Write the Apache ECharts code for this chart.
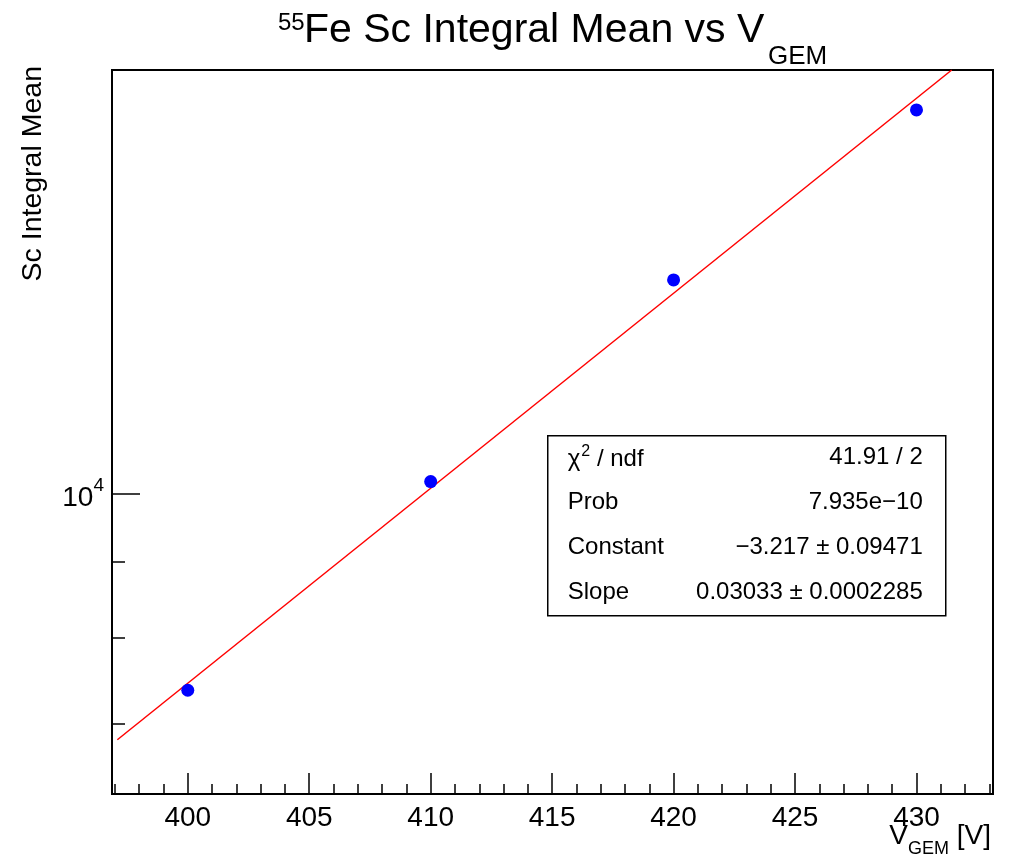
<!DOCTYPE html>
<html>
<head>
<meta charset="utf-8">
<script src="https://cdn.jsdelivr.net/npm/echarts@6/dist/echarts.min.js"></script>
<style>
  html, body { margin: 0; padding: 0; background: #fff; }
  #chart { width: 1011px; height: 862px; }
</style>
</head>
<body>
<div id="chart"></div>
<script>
// measured points
const voltages = [400, 410, 420, 430];
const scMeans = [7375, 10197, 13945, 18155];

// fitted expo line, end points
const fitX = [397.1, 431.45];
const fitY = [6830, 19316];

const xMajorTicks = [400, 405, 410, 415, 420, 425, 430];
const xMinorTicks = [397, 398, 399, 401, 402, 403, 404, 406, 407, 408, 409, 411, 412, 413, 414,
  416, 417, 418, 419, 421, 422, 423, 424, 426, 427, 428, 429, 431, 432, 433];
const yMajorTicks = [10000];
const yMinorTicks = [7000, 8000, 9000];

const statsNames = ['{n|χ}{s|2}{n| / ndf}', 'Prob', 'Constant', 'Slope'];
const statsValues = ['41.91 / 2', '7.935e−10', '−3.217 ± 0.09471', '0.03033 ± 0.0002285'];

const FONT = '"Liberation Sans", Arial, Helvetica, sans-serif';
const xMin = 396.88, xMax = 433.15;
const yMin = 6278, yMax = 19316;

const chart = echarts.init(document.getElementById('chart'));

const fitData = fitX.map((x, i) => [x, fitY[i]]);
const pointData = voltages.map((v, i) => [v, scMeans[i]]);

function label(text, x, y, size, extra) {
  return Object.assign({
    type: 'text', x: x, y: y,
    style: { text: text, font: size + 'px ' + FONT, fill: '#000', verticalAlign: 'middle' }
  }, extra || {});
}

const statsBox = {
  type: 'group',
  left: 547,
  top: 435,
  children: [
    {
      type: 'rect',
      shape: { x: 0, y: 0, width: 398, height: 180 },
      style: { fill: '#fff', stroke: '#000', lineWidth: 1.5 }
    }
  ].concat(statsNames.flatMap((name, i) => [
    {
      type: 'text',
      x: 20,
      y: 22 + i * 45,
      style: {
        text: name,
        font: '24px ' + FONT,
        fill: '#000',
        verticalAlign: 'middle',
        rich: {
          n: { fontSize: 24, fontFamily: FONT, lineHeight: 28, verticalAlign: 'bottom' },
          s: { fontSize: 16, fontFamily: FONT, lineHeight: 28, verticalAlign: 'top', padding: [0, 0, 0, 1] }
        }
      }
    },
    {
      type: 'text',
      x: 375,
      y: 22 + i * 45,
      style: {
        text: statsValues[i],
        font: '24px ' + FONT,
        fill: '#000',
        align: 'right',
        verticalAlign: 'middle'
      }
    }
  ]))
};

const option = {
  animation: false,
  backgroundColor: '#fff',
  textStyle: { fontFamily: FONT },
  grid: {
    left: 112, right: 18, top: 70, bottom: 68,
    show: true, borderColor: '#000', borderWidth: 2, backgroundColor: 'transparent'
  },
  xAxis: [
    {
      type: 'value', min: xMin, max: xMax, position: 'bottom',
      axisLine: { lineStyle: { color: '#000', width: 2 } },
      axisTick: { inside: true, length: 21, customValues: xMajorTicks, lineStyle: { color: '#000', width: 1.5 } },
      axisLabel: { customValues: xMajorTicks, color: '#000', fontSize: 28, margin: 10, fontFamily: FONT },
      splitLine: { show: false }
    },
    {
      type: 'value', min: xMin, max: xMax, position: 'bottom',
      axisLine: { show: false },
      axisTick: { inside: true, length: 10, customValues: xMinorTicks, lineStyle: { color: '#000', width: 1.5 } },
      axisLabel: { show: false },
      splitLine: { show: false }
    }
  ],
  yAxis: [
    {
      type: 'log', logBase: 10, min: yMin, max: yMax, position: 'left',
      axisLine: { show: true, lineStyle: { color: '#000', width: 2 } },
      axisTick: { inside: true, length: 28, customValues: yMajorTicks, lineStyle: { color: '#000', width: 1.5 } },
      axisLabel: {
        customValues: yMajorTicks, margin: 8, color: '#000',
        formatter: v => '{b|10}{s|' + Math.round(Math.log10(v)) + '}',
        rich: {
          b: { fontSize: 28, fontFamily: FONT, lineHeight: 36, verticalAlign: 'bottom' },
          s: { fontSize: 19, fontFamily: FONT, lineHeight: 36, verticalAlign: 'top' }
        }
      },
      splitLine: { show: false }
    },
    {
      type: 'log', logBase: 10, min: yMin, max: yMax, position: 'left',
      axisLine: { show: false },
      axisTick: { inside: true, length: 13, customValues: yMinorTicks, lineStyle: { color: '#000', width: 1.5 } },
      axisLabel: { show: false },
      splitLine: { show: false }
    }
  ],
  graphic: [
    // title: superscript 55, main text, subscript GEM
    label('55', 278, 23, 24),
    label('Fe Sc Integral Mean vs V', 304, 31, 41),
    label('GEM', 768, 57, 26),
    {
      type: 'text',
      x: 33,
      y: 66,
      rotation: Math.PI / 2,
      style: {
        text: 'Sc Integral Mean',
        font: '28.5px ' + FONT,
        fill: '#000',
        align: 'right',
        verticalAlign: 'middle'
      }
    },
    {
      type: 'text',
      right: 20,
      top: 822,
      style: {
        text: '{v|V}{g|GEM}{v| [V]}',
        fill: '#000',
        rich: {
          v: { fontSize: 28, fontFamily: FONT, lineHeight: 36, verticalAlign: 'top' },
          g: { fontSize: 18, fontFamily: FONT, lineHeight: 36, verticalAlign: 'bottom' }
        }
      }
    },
    statsBox
  ],
  series: [
    {
      type: 'line',
      name: 'fit',
      data: fitData,
      xAxisIndex: 0,
      yAxisIndex: 0,
      showSymbol: false,
      clip: true,
      lineStyle: { color: '#ff0000', width: 1.5 },
      z: 2
    },
    {
      type: 'scatter',
      name: 'data',
      data: pointData,
      xAxisIndex: 0,
      yAxisIndex: 0,
      symbol: 'circle',
      symbolSize: 13,
      itemStyle: { color: '#0000ff', opacity: 1 },
      z: 3
    }
  ]
};

chart.setOption(option);
</script>
</body>
</html>
